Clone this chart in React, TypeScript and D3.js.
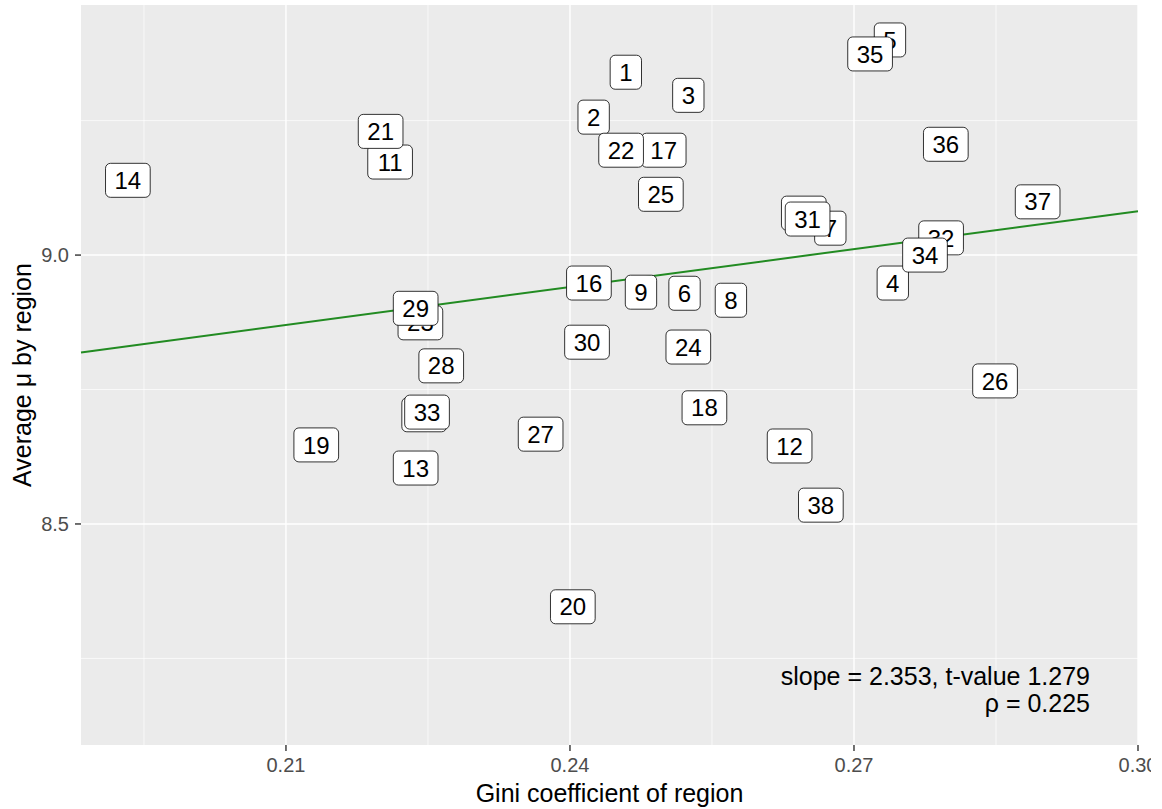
import React from "react";
import * as d3 from "d3";

const regions = ["1","2","3","4","5","6","7","8","9","10","11","12","13","14","15","16","17","18","19","20","21","22","23","24","25","26","27","28","29","30","31","32","33","34","35","36","37","38"];
const gini = [0.2459,0.2425,0.2525,0.2741,0.2738,0.2521,0.2675,0.2570,0.2475,0.2246,0.2210,0.2632,0.2237,0.1933,0.2647,0.2420,0.2499,0.2542,0.2132,0.2403,0.2200,0.2454,0.2242,0.2525,0.2496,0.2849,0.2369,0.2264,0.2237,0.2418,0.2651,0.2792,0.2249,0.2775,0.2717,0.2797,0.2894,0.2665];
const mu = [9.340,9.2565,9.297,8.948,9.400,8.929,9.050,8.916,8.931,8.703,9.173,8.645,8.604,9.139,9.078,8.948,9.195,8.716,8.647,8.346,9.230,9.195,8.874,8.829,9.113,8.766,8.667,8.794,8.901,8.838,9.067,9.032,8.708,9.000,9.374,9.206,9.099,8.535];
const xTicks = [0.21, 0.24, 0.27, 0.30];
const xMinor = [0.195, 0.225, 0.255, 0.285];
const yTicks = [8.5, 9.0];
const yMinor = [8.25, 8.75, 9.25];
const slope = 2.353;
const lineAt024 = 8.9405;
const annotation = ["slope = 2.353, t-value 1.279", "ρ = 0.225"];

const W = 1162, H = 809;
const L = 81, R = 1138, T = 5, B = 745;
const FONT = "'Liberation Sans', Arial, sans-serif";

export default function App() {
  const x = d3.scaleLinear().domain([0.18835, 0.300]).range([L, R]);
  const y = d3.scaleLinear().domain([8.089, 9.465]).range([B, T]);
  const lineFn = (g: number) => lineAt024 + slope * (g - 0.24);
  const [g0, g1] = x.domain();
  const reg = d3.line<number>().x(g => x(g)).y(g => y(lineFn(g)))([g0, g1]);
  const fs = 24;
  const charW = fs * 0.556;
  return (
    <svg width={W} height={H} style={{ position: "absolute", left: 0, top: 0, background: "#fff" }} fontFamily={FONT}>
      <defs>
        <clipPath id="pageclip"><rect x={0} y={0} width={1151} height={H} /></clipPath>
      </defs>
      <rect x={L} y={T} width={R - L} height={B - T} fill="#EBEBEB" />
      {xMinor.map(v => <line key={"xm" + v} x1={x(v)} x2={x(v)} y1={T} y2={B} stroke="#fff" strokeWidth={0.7} />)}
      {yMinor.map(v => <line key={"ym" + v} x1={L} x2={R} y1={y(v)} y2={y(v)} stroke="#fff" strokeWidth={0.7} />)}
      {xTicks.map(v => <line key={"xg" + v} x1={x(v)} x2={x(v)} y1={T} y2={B} stroke="#fff" strokeWidth={1.4} />)}
      {yTicks.map(v => <line key={"yg" + v} x1={L} x2={R} y1={y(v)} y2={y(v)} stroke="#fff" strokeWidth={1.4} />)}
      <path d={reg || ""} stroke="#228B22" strokeWidth={2} fill="none" />
      {regions.map((r, i) => {
        const cx = x(gini[i]), cy = y(mu[i]);
        const w = r.length * charW + 18;
        const h = 34;
        return (
          <g key={r}>
            <rect x={cx - w / 2} y={cy - h / 2} width={w} height={h} rx={5} ry={5} fill="#fff" stroke="#000" strokeWidth={0.8} />
            <text x={cx} y={cy} dy="0.36em" textAnchor="middle" fontSize={fs} fill="#000">{r}</text>
          </g>
        );
      })}
      {annotation.map((t, i) => (
        <text key={t} x={1090} y={685 + i * 27} textAnchor="end" fontSize={25} fill="#000">{t}</text>
      ))}
      <g clipPath="url(#pageclip)">
        {xTicks.map(v => (
          <g key={"xt" + v}>
            <line x1={x(v)} x2={x(v)} y1={B} y2={B + 6} stroke="#333" strokeWidth={1.4} />
            <text x={x(v)} y={B + 27} textAnchor="middle" fontSize={20} fill="#4D4D4D">{d3.format(".2f")(v)}</text>
          </g>
        ))}
      </g>
      {yTicks.map(v => (
        <g key={"yt" + v}>
          <line x1={L - 6} x2={L} y1={y(v)} y2={y(v)} stroke="#333" strokeWidth={1.4} />
          <text x={L - 12} y={y(v)} dy="0.36em" textAnchor="end" fontSize={20} fill="#4D4D4D">{d3.format(".1f")(v)}</text>
        </g>
      ))}
      <text x={(L + R) / 2} y={802} textAnchor="middle" fontSize={25} fill="#000">Gini coefficient of region</text>
      <text transform={`translate(31,${(T + B) / 2}) rotate(-90)`} textAnchor="middle" fontSize={25} fill="#000">Average μ by region</text>
    </svg>
  );
}
